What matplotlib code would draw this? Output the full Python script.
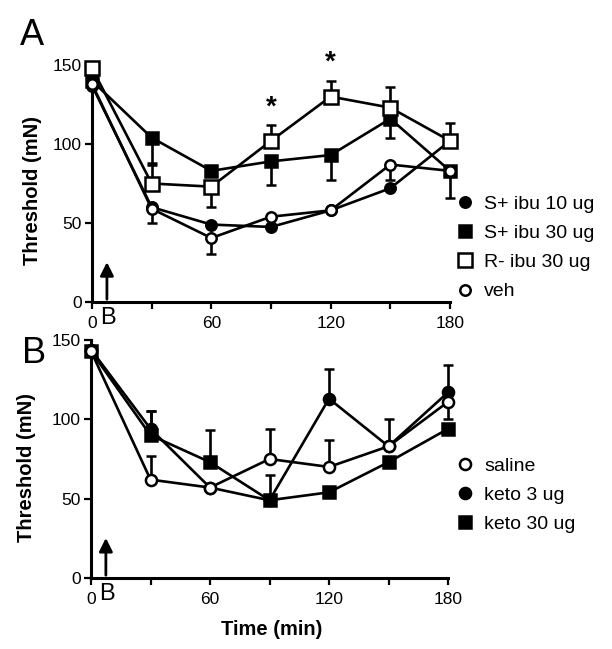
import matplotlib
matplotlib.use("Agg")
import matplotlib.pyplot as plt
from matplotlib.lines import Line2D

plt.rcParams['font.family'] = ['Liberation Sans', 'DejaVu Sans']

time = [0, 30, 60, 90, 120, 150, 180]

# Panel A
a_labels = ["S+ ibu 10 ug", "S+ ibu 30 ug", "R- ibu 30 ug", "veh"]
a_s10 = [137, 60, 49, 47.5, 58, 72, 102]
a_s30 = [140, 104, 83, 89, 93, 116, 83]
a_r30 = [148, 75, 73, 102, 130, 123, 102]
a_veh = [138, 59, 40.5, 54, 58, 87, 83]
a_s10_lo = [0, 10, 0, 0, 0, 0, 0]
a_s10_hi = [0, 0, 0, 0, 0, 0, 0]
a_s30_lo = [0, 17, 0, 15, 16, 12, 17]
a_s30_hi = [0, 0, 0, 0, 0, 0, 0]
a_r30_lo = [0, 0, 13, 0, 0, 0, 0]
a_r30_hi = [0, 13, 0, 10, 10, 13, 11]
a_veh_lo = [0, 0, 10, 0, 0, 10, 0]
a_veh_hi = [0, 0, 0, 0, 0, 0, 0]
a_star_times = [90, 120]

# Panel B
b_labels = ["saline", "keto 3 ug", "keto 30 ug"]
b_sal = [143, 62, 57, 75, 70, 83, 111]
b_k3 = [144, 94, 57, 49, 113, 83, 117]
b_k30 = [143, 90, 73, 49, 54, 73, 94]
b_sal_lo = [0, 0, 0, 0, 0, 0, 0]
b_sal_hi = [0, 15, 0, 19, 17, 0, 0]
b_k3_lo = [0, 0, 0, 0, 0, 0, 17]
b_k3_hi = [0, 11, 0, 16, 19, 17, 17]
b_k30_lo = [0, 0, 0, 0, 0, 0, 0]
b_k30_hi = [0, 15, 20, 0, 0, 0, 0]

W, H = 612, 649
fig = plt.figure(figsize=(W / 100, H / 100), dpi=100)

axA = fig.add_axes([92 / W, 1 - 302 / H, 358 / W, 237 / H])
axB = fig.add_axes([91 / W, 1 - 578 / H, 357 / W, 238 / H])

LW = 1.9
styles_A = [
    dict(marker='o', mfc='black', ms=7.5),
    dict(marker='s', mfc='black', ms=8),
    dict(marker='s', mfc='white', ms=9.5),
    dict(marker='o', mfc='white', ms=7.5),
]
styles_B = [
    dict(marker='o', mfc='white', ms=8),
    dict(marker='o', mfc='black', ms=8),
    dict(marker='s', mfc='black', ms=8),
]


def plot_series(ax, y, lo, hi, st, z):
    ax.errorbar(time, y, yerr=[lo, hi], color='black', lw=LW, elinewidth=LW,
                capsize=3.5, capthick=LW, marker=st['marker'], mfc=st['mfc'],
                mec='black', mew=1.8, ms=st['ms'], clip_on=False, zorder=z)


def style_axes(ax):
    ax.set_xlim(0, 180)
    ax.set_ylim(0, 150)
    for s in ['top', 'right']:
        ax.spines[s].set_visible(False)
    for s in ['left', 'bottom']:
        ax.spines[s].set_linewidth(2.2)
    ax.set_xticks([0, 60, 120, 180])
    ax.set_xticks([30, 90, 150], minor=True)
    ax.set_yticks([0, 50, 100, 150])
    ax.tick_params(which='both', direction='out', length=5, width=1.6,
                   labelsize=12.5, pad=5)
    ax.tick_params(axis='y', pad=2.5)
    ax.set_ylabel("Threshold (mN)", fontsize=14.5, fontweight='bold')
    ax.patch.set_alpha(0)


def arrow(ax):
    ax.annotate('', xy=(7.5, 27), xytext=(7.5, 0),
                arrowprops=dict(arrowstyle='-|>', color='black', lw=2,
                                mutation_scale=20), annotation_clip=False)
    ax.text(8, -3, 'B', ha='center', va='top', fontsize=17,
            clip_on=False)


for y, lo, hi, st, z in zip([a_s10, a_s30, a_r30, a_veh],
                            [a_s10_lo, a_s30_lo, a_r30_lo, a_veh_lo],
                            [a_s10_hi, a_s30_hi, a_r30_hi, a_veh_hi],
                            styles_A, [3, 4, 5, 6]):
    plot_series(axA, y, lo, hi, st, z)
for t in a_star_times:
    i = time.index(t)
    axA.text(t, a_r30[i] + a_r30_hi[i] + 3, '*', ha='center', va='bottom',
             fontsize=20, fontweight='bold', clip_on=False)

for y, lo, hi, st, z in zip([b_sal, b_k3, b_k30],
                            [b_sal_lo, b_k3_lo, b_k30_lo],
                            [b_sal_hi, b_k3_hi, b_k30_hi],
                            styles_B, [5, 4, 3]):
    plot_series(axB, y, lo, hi, st, z)

for ax in (axA, axB):
    style_axes(ax)
    arrow(ax)

axA.yaxis.set_label_coords(-0.14, 0.47)
axB.yaxis.set_label_coords(-0.155, 0.466)
axB.set_xlabel("Time (min)", fontsize=14.5, fontweight='bold')
axB.xaxis.set_label_coords(0.507, -0.175)


def legend(ax, labels, styles, y0):
    handles = [Line2D([], [], ls='none', marker=st['marker'], mfc=st['mfc'],
                      mec='black', mew=1.8, color='black', ms=st['ms'])
               for st in styles]
    ax.legend(handles, labels, loc='upper left', bbox_to_anchor=(457 / W, y0),
              bbox_transform=fig.transFigure, frameon=False, fontsize=14,
              handlelength=0.8, handletextpad=0.6, labelspacing=0.6,
              borderaxespad=0, borderpad=0)


legend(axA, a_labels, styles_A, 1 - 195 / H)
legend(axB, b_labels, styles_B, 1 - 457 / H)

fig.text(20 / W, 1 - 45 / H, 'A', fontsize=26, va='baseline')
fig.text(22 / W, 1 - 363 / H, 'B', fontsize=26, va='baseline')

fig.savefig('out.png', dpi=100)
